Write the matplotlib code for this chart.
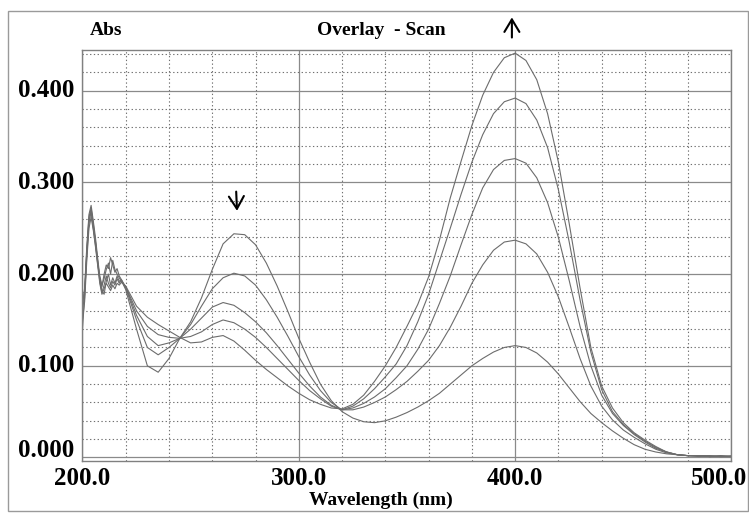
import numpy as np
import matplotlib.pyplot as plt
from matplotlib.ticker import MultipleLocator
from matplotlib.patches import Rectangle
import matplotlib.transforms as mtransforms

# --- data ---
wavelength = [200, 201, 202, 203, 204, 205, 206, 207, 208, 209, 210,
              211, 212, 213, 214, 215, 216, 217, 218, 219, 220,
              225, 230, 235, 240, 245, 250, 255, 260, 265, 270,
              275, 280, 285, 290, 295, 300, 305, 310, 315, 320,
              325, 330, 335, 340, 345, 350, 355, 360, 365, 370,
              375, 380, 385, 390, 395, 400, 405, 410, 415, 420,
              425, 430, 435, 440, 445, 450, 455, 460, 465, 470,
              475, 480, 485, 490, 495, 500]

scan1 = [0.140, 0.175, 0.225, 0.262, 0.272, 0.255, 0.235, 0.215, 0.195, 0.182, 0.178,
         0.192, 0.200, 0.188, 0.196, 0.190, 0.198, 0.192, 0.194, 0.188, 0.183,
         0.140, 0.100, 0.093, 0.108, 0.130, 0.148, 0.174, 0.205, 0.233, 0.244,
         0.243, 0.232, 0.212, 0.187, 0.159, 0.130, 0.104, 0.080, 0.062, 0.050,
         0.043, 0.039, 0.038, 0.040, 0.044, 0.049, 0.055, 0.062, 0.070, 0.080,
         0.090, 0.100, 0.108, 0.115, 0.120, 0.122, 0.120, 0.114, 0.104, 0.091,
         0.076, 0.061, 0.048, 0.038, 0.029, 0.021, 0.014, 0.009, 0.006, 0.004,
         0.003, 0.002, 0.002, 0.001, 0.002, 0.001]

scan2 = [0.165, 0.185, 0.230, 0.265, 0.275, 0.258, 0.240, 0.218, 0.198, 0.188, 0.195,
         0.205, 0.212, 0.200, 0.215, 0.205, 0.200, 0.196, 0.192, 0.189, 0.185,
         0.150, 0.120, 0.112, 0.120, 0.130, 0.145, 0.165, 0.184, 0.196, 0.201,
         0.198, 0.188, 0.172, 0.153, 0.132, 0.110, 0.090, 0.073, 0.060, 0.052,
         0.052, 0.055, 0.060, 0.066, 0.074, 0.083, 0.094, 0.106, 0.122, 0.142,
         0.165, 0.190, 0.210, 0.226, 0.235, 0.237, 0.233, 0.222, 0.202, 0.175,
         0.142, 0.108, 0.078, 0.056, 0.041, 0.030, 0.022, 0.015, 0.009, 0.005,
         0.003, 0.002, 0.002, 0.002, 0.001, 0.001]

scan3 = [0.170, 0.182, 0.225, 0.258, 0.268, 0.250, 0.232, 0.212, 0.196, 0.186, 0.200,
         0.210, 0.206, 0.218, 0.210, 0.202, 0.206, 0.198, 0.194, 0.190, 0.186,
         0.155, 0.132, 0.122, 0.125, 0.130, 0.140, 0.152, 0.164, 0.169, 0.166,
         0.158, 0.148, 0.136, 0.122, 0.107, 0.092, 0.078, 0.066, 0.057, 0.052,
         0.054, 0.059, 0.066, 0.075, 0.087, 0.100, 0.118, 0.140, 0.168, 0.198,
         0.232, 0.265, 0.294, 0.314, 0.324, 0.326, 0.321, 0.305, 0.278, 0.240,
         0.193, 0.143, 0.100, 0.068, 0.048, 0.035, 0.025, 0.017, 0.010, 0.006,
         0.003, 0.002, 0.002, 0.001, 0.002, 0.001]

scan4 = [0.160, 0.178, 0.220, 0.255, 0.270, 0.252, 0.236, 0.214, 0.192, 0.180, 0.188,
         0.198, 0.190, 0.185, 0.192, 0.188, 0.195, 0.190, 0.193, 0.189, 0.186,
         0.160, 0.143, 0.134, 0.131, 0.130, 0.132, 0.137, 0.145, 0.150, 0.147,
         0.140, 0.131, 0.120, 0.108, 0.096, 0.084, 0.073, 0.064, 0.056, 0.052,
         0.056, 0.064, 0.075, 0.088, 0.102, 0.122, 0.148, 0.178, 0.214, 0.250,
         0.287, 0.322, 0.352, 0.375, 0.388, 0.392, 0.386, 0.368, 0.338, 0.292,
         0.235, 0.172, 0.115, 0.074, 0.050, 0.036, 0.026, 0.018, 0.011, 0.006,
         0.003, 0.002, 0.001, 0.002, 0.001, 0.001]

scan5 = [0.150, 0.170, 0.215, 0.250, 0.262, 0.248, 0.230, 0.210, 0.190, 0.178, 0.184,
         0.190, 0.186, 0.182, 0.188, 0.184, 0.190, 0.188, 0.191, 0.189, 0.187,
         0.165, 0.153, 0.145, 0.138, 0.131, 0.125, 0.126, 0.131, 0.133, 0.127,
         0.117, 0.106, 0.096, 0.087, 0.078, 0.070, 0.063, 0.058, 0.054, 0.053,
         0.058, 0.068, 0.083, 0.100, 0.120, 0.143, 0.167, 0.197, 0.237, 0.283,
         0.323, 0.362, 0.395, 0.420, 0.436, 0.441, 0.433, 0.412, 0.375, 0.322,
         0.255, 0.185, 0.120, 0.078, 0.054, 0.038, 0.027, 0.019, 0.012, 0.006,
         0.003, 0.002, 0.002, 0.001, 0.001, 0.002]

scans = [scan1, scan2, scan3, scan4, scan5]

x_ticks = [200.0, 300.0, 400.0, 500.0]
y_ticks = [0.0, 0.1, 0.2, 0.3, 0.4]

FONT = 'Liberation Serif'

fig = plt.figure(figsize=(7.49, 5.13), dpi=100)
ax = fig.add_axes([0.1101, 0.1014, 0.8665, 0.8011])

for s in scans:
    ax.plot(wavelength, s, color='#6c6c6c', lw=0.8)

ax.set_xlim(200, 500)
ax.set_ylim(-0.0038, 0.4444)

# grid: solid majors, dotted minors
ax.xaxis.set_major_locator(MultipleLocator(100))
ax.xaxis.set_minor_locator(MultipleLocator(20))
ax.yaxis.set_major_locator(MultipleLocator(0.1))
ax.yaxis.set_minor_locator(MultipleLocator(0.02))
ax.grid(which='major', color='#8a8a8a', lw=0.9, ls='-')
ax.grid(which='minor', color='#707070', lw=0.8, ls=(0, (1.2, 2.2)))
ax.set_axisbelow(True)
ax.tick_params(which='both', length=0, labelbottom=False, labelleft=False)
for sp in ax.spines.values():
    sp.set_color('#808080')
    sp.set_linewidth(1.0)

# tick labels drawn by hand so 0.000 and 500.0 can sit like the original
ytr = ax.get_yaxis_transform()
for v in y_ticks:
    ax.text(-0.012, v, f'{v:.3f}', transform=ytr, ha='right',
            va='baseline' if v == 0 else 'center',
            fontsize=18, fontweight='bold', family=FONT)

xtr = ax.get_xaxis_transform()
for v in x_ticks:
    if v == x_ticks[-1]:
        tr = mtransforms.offset_copy(xtr, fig=fig, x=11.2, y=0, units='points')
        ha = 'right'
    else:
        tr = xtr
        ha = 'center'
    ax.text(v, -0.058, f'{v:.1f}', transform=tr, ha=ha, va='baseline',
            fontsize=18, fontweight='bold', family=FONT)

fig.text(0.5087, 0.0156, 'Wavelength (nm)', ha='center', va='baseline',
         fontsize=14, fontweight='bold', family=FONT)
fig.text(0.1202, 0.9318, 'Abs', ha='left', va='baseline',
         fontsize=14, fontweight='bold', family=FONT)
fig.text(0.5087, 0.9318, 'Overlay  - Scan', ha='center', va='baseline',
         fontsize=14, fontweight='bold', family=FONT)

# arrows marking the direction of change
arrow_style = '->,head_length=0.5,head_width=0.3'
ax.annotate('', xy=(398.5, 0.483), xytext=(398.5, 0.455),
            arrowprops=dict(arrowstyle=arrow_style, lw=1.5, color='black', mutation_scale=18),
            annotation_clip=False)
ax.annotate('', xy=(271.5, 0.266), xytext=(271.0, 0.293),
            arrowprops=dict(arrowstyle=arrow_style, lw=1.5, color='black', mutation_scale=18),
            annotation_clip=False)

# outer frame of the instrument printout
fig.patches.append(Rectangle((8 / 749, 2 / 513), 740 / 749, 500 / 513,
                             transform=fig.transFigure, fill=False,
                             edgecolor='#9a9a9a', lw=1.0))

fig.savefig('out.png', dpi=100)
